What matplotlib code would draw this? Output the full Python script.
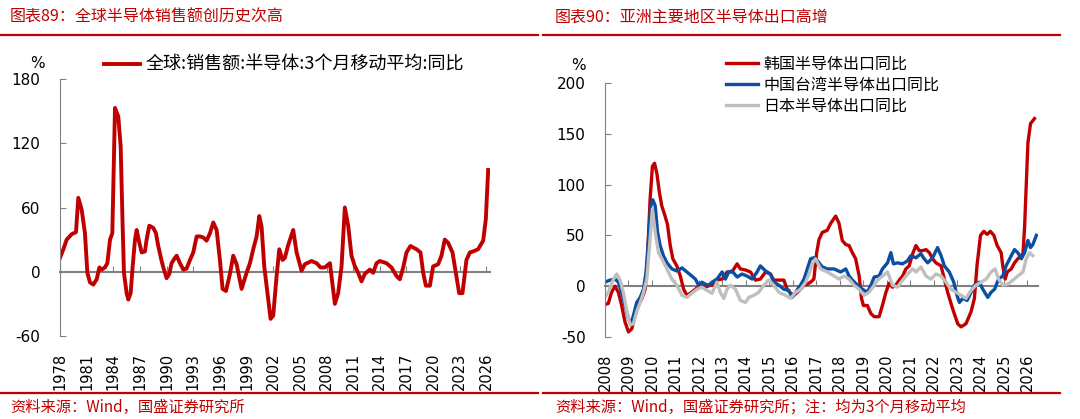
import matplotlib
matplotlib.use("Agg")
import matplotlib.pyplot as plt
import numpy as np

plt.rcParams['font.family'] = ['DejaVu Sans', 'Noto Sans CJK SC']
plt.rcParams['axes.unicode_minus'] = False
CJK = ['Noto Sans CJK SC', 'DejaVu Sans']

RED = '#C00000'
BLUE = '#0B4EA2'
GREY = '#BFBFBF'
AXIS = '#808080'

# ---- left chart: global semiconductor sales, 3m avg, yoy (%)
global_years = [1978.0, 1978.38, 1978.75, 1979.31, 1979.8, 1980.06, 1980.44, 1980.81, 1981.08, 1981.38,
                1981.75, 1982.13, 1982.43, 1982.69, 1983.06, 1983.33, 1983.63, 1983.89, 1984.19, 1984.56,
                1984.83, 1985.05, 1985.2, 1985.5, 1985.69, 1985.95, 1986.18, 1986.44, 1986.63, 1986.93,
                1987.19, 1987.56, 1987.75, 1988.05, 1988.5, 1988.8, 1989.06, 1989.44, 1989.63, 1990.0,
                1990.3, 1990.56, 1990.94, 1991.13, 1991.5, 1991.88, 1992.25, 1992.63, 1993.0, 1993.38,
                1993.75, 1994.13, 1994.5, 1994.88, 1995.25, 1995.63, 1996.0, 1996.3, 1996.68, 1997.13,
                1997.5, 1997.88, 1998.44, 1999.0, 1999.38, 1999.75, 2000.13, 2000.43, 2000.69, 2000.99,
                2001.44, 2001.7, 2002.0, 2002.38, 2002.68, 2003.05, 2003.31, 2003.69, 2004.25, 2004.63,
                2005.19, 2005.56, 2006.31, 2006.88, 2007.33, 2007.81, 2008.38, 2008.94, 2009.31, 2009.69,
                2010.06, 2010.44, 2010.81, 2011.19, 2011.56, 2011.94, 2012.31, 2012.88, 2013.25, 2013.63,
                2014.0, 2014.75, 2015.31, 2015.88, 2016.25, 2016.63, 2017.0, 2017.45, 2018.13, 2018.58,
                2018.88, 2019.18, 2019.63, 2020.0, 2020.56, 2020.94, 2021.31, 2021.69, 2022.18, 2022.55,
                2022.93, 2023.3, 2023.75, 2024.13, 2024.5, 2025.06, 2025.63, 2025.93, 2026.19]
global_sales = [13, 21, 30, 35, 37, 69, 58, 36, -1, -10,
                -12, -7, 4, 2, 4, 8, 30, 36, 153, 145,
                117, 43, -1, -20, -26, -20, 5, 30, 39, 27,
                18, 19, 30, 43, 41, 36, 24, 10, 4, -6,
                -2, 8, 13, 15, 8, 2, 3, 11, 18, 33,
                33, 32, 29, 36, 46, 39, 11, -16, -18, -2,
                15, 7, -16, -1, 8, 21, 33, 52, 42, 5,
                -26, -44, -41, -4, 21, 11, 13, 25, 39, 18,
                1, 7, 10, 8, 4, 4, 8, -30, -20, 5,
                60, 43, 15, 5, -1, -9, -2, 2, -1, 8,
                10, 8, 4, -4, -7, 4, 18, 24, 21, 18,
                -1, -13, -13, 5, 7, 15, 30, 27, 18, -1,
                -20, -20, 11, 18, 19, 21, 29, 49, 95]
left_ticks = list(range(1978, 2027, 3))

# ---- right chart: Asian semiconductor exports yoy (%), 3m avg
kr_years = [2008.0, 2008.14, 2008.28, 2008.43, 2008.57, 2008.71, 2008.85, 2009.0, 2009.14, 2009.28,
            2009.42, 2009.57, 2009.71, 2009.81, 2009.92, 2010.02, 2010.11, 2010.21, 2010.32, 2010.42,
            2010.56, 2010.66, 2010.78, 2010.89, 2011.06, 2011.21, 2011.35, 2011.49, 2011.63, 2011.85,
            2012.06, 2012.27, 2012.49, 2012.63, 2012.77, 2012.99, 2013.2, 2013.41, 2013.63, 2013.77,
            2013.98, 2014.2, 2014.41, 2014.62, 2014.84, 2015.05, 2015.19, 2015.41, 2015.62, 2015.76,
            2015.91, 2016.05, 2016.19, 2016.33, 2016.48, 2016.62, 2016.76, 2016.9, 2017.02, 2017.12,
            2017.26, 2017.47, 2017.62, 2017.83, 2017.97, 2018.11, 2018.26, 2018.4, 2018.54, 2018.68,
            2018.83, 2018.93, 2019.01, 2019.18, 2019.33, 2019.47, 2019.68, 2019.82, 2019.97, 2020.11,
            2020.25, 2020.39, 2020.54, 2020.68, 2020.82, 2020.96, 2021.11, 2021.25, 2021.39, 2021.53,
            2021.68, 2021.82, 2021.96, 2022.1, 2022.32, 2022.46, 2022.6, 2022.81, 2023.03, 2023.17,
            2023.38, 2023.6, 2023.74, 2023.85, 2024.0, 2024.14, 2024.28, 2024.42, 2024.57, 2024.71,
            2024.88, 2024.95, 2025.05, 2025.14, 2025.31, 2025.45, 2025.59, 2025.81, 2025.88, 2026.02,
            2026.13, 2026.3]
korea = [-18, -17, -6, 0, -6, -19, -35, -45, -42, -29,
         -19, -12, -3, 27, 85, 118, 121, 111, 92, 79,
         69, 61, 40, 27, 20, 10, -3, -9, -7, -3,
         1, -1, 1, 1, 6, 7, 14, 14, 22, 17,
         16, 14, 6, 7, 14, 12, 6, 6, 6, -3,
         -7, -9, -6, -3, 1, 2, 4, 7, 33, 46,
         53, 55, 62, 69, 62, 45, 41, 40, 33, 27,
         10, -12, -19, -19, -27, -30, -30, -19, -6, 3,
         -1, 1, 6, 10, 17, 20, 32, 40, 35, 35,
         36, 33, 27, 23, 20, 7, -6, -22, -37, -40,
         -37, -25, -12, 20, 50, 54, 51, 54, 50, 40,
         33, 20, 7, 14, 17, 23, 27, 32, 59, 141,
         160, 165]

tw_years = [2008.0, 2008.21, 2008.43, 2008.57, 2008.71, 2008.85, 2009.0, 2009.1, 2009.21, 2009.35,
            2009.5, 2009.64, 2009.75, 2009.85, 2009.95, 2010.04, 2010.14, 2010.24, 2010.35, 2010.49,
            2010.64, 2010.85, 2011.06, 2011.28, 2011.49, 2011.7, 2011.85, 2011.99, 2012.13, 2012.27,
            2012.42, 2012.56, 2012.77, 2012.99, 2013.13, 2013.27, 2013.41, 2013.63, 2013.84, 2014.05,
            2014.27, 2014.48, 2014.62, 2014.84, 2015.05, 2015.19, 2015.41, 2015.62, 2015.83, 2015.98,
            2016.12, 2016.33, 2016.48, 2016.62, 2016.76, 2016.9, 2017.05, 2017.26, 2017.47, 2017.76,
            2018.04, 2018.26, 2018.4, 2018.54, 2018.76, 2018.97, 2019.18, 2019.33, 2019.47, 2019.68,
            2019.82, 2020.04, 2020.18, 2020.29, 2020.46, 2020.68, 2020.89, 2021.03, 2021.25, 2021.46,
            2021.6, 2021.75, 2021.96, 2022.17, 2022.32, 2022.46, 2022.67, 2022.86, 2023.0, 2023.1,
            2023.24, 2023.43, 2023.6, 2023.74, 2023.95, 2024.1, 2024.31, 2024.45, 2024.6, 2024.77,
            2024.95, 2025.09, 2025.31, 2025.45, 2025.59, 2025.74, 2025.88, 2026.02, 2026.13, 2026.23,
            2026.38]
taiwan = [4, 6, 7, 4, -6, -19, -32, -37, -29, -16,
          -11, -3, 14, 46, 79, 85, 79, 53, 40, 30,
          23, 17, 15, 18, 14, 10, 7, 1, 4, 2,
          1, 4, 7, 14, 7, 14, 15, 9, 12, 10,
          7, 14, 20, 15, 12, 4, 1, -3, -4, -11,
          -6, 1, 7, 17, 27, 28, 25, 19, 17, 17,
          14, 17, 10, 6, 1, -3, -6, 1, 9, 10,
          17, 23, 33, 22, 23, 22, 25, 30, 28, 32,
          27, 23, 28, 38, 30, 20, 14, 4, -9, -16,
          -12, -14, -6, 1, 4, -3, -11, -6, -3, 7,
          10, 20, 30, 36, 33, 27, 33, 45, 38, 41,
          50]

jp_years = [2008.0, 2008.14, 2008.36, 2008.5, 2008.64, 2008.78, 2008.93, 2009.07, 2009.21, 2009.35,
            2009.5, 2009.64, 2009.78, 2009.92, 2010.02, 2010.14, 2010.28, 2010.42, 2010.64, 2010.85,
            2011.06, 2011.28, 2011.49, 2011.7, 2011.92, 2012.13, 2012.34, 2012.56, 2012.77, 2012.91,
            2013.06, 2013.2, 2013.34, 2013.56, 2013.77, 2013.98, 2014.13, 2014.34, 2014.55, 2014.77,
            2014.98, 2015.19, 2015.41, 2015.69, 2015.91, 2016.12, 2016.33, 2016.55, 2016.69, 2016.83,
            2016.97, 2017.19, 2017.47, 2017.76, 2017.97, 2018.19, 2018.4, 2018.61, 2018.83, 2019.04,
            2019.25, 2019.47, 2019.61, 2019.82, 2020.04, 2020.25, 2020.46, 2020.68, 2020.89, 2021.11,
            2021.25, 2021.46, 2021.68, 2021.89, 2022.1, 2022.32, 2022.53, 2022.74, 2022.96, 2023.17,
            2023.38, 2023.6, 2023.81, 2024.03, 2024.24, 2024.45, 2024.62, 2024.77, 2024.95, 2025.17,
            2025.38, 2025.59, 2025.81, 2025.95, 2026.09, 2026.23]
japan = [-11, -6, 7, 12, 6, -6, -25, -38, -37, -25,
         -16, -6, 7, 46, 76, 53, 33, 27, 17, 7,
         1, -9, -11, -7, -3, -1, -4, -7, 4, -6,
         -12, -3, 1, -3, -14, -16, -11, -9, -6, 1,
         6, 1, -6, -9, -12, -6, -3, 4, 12, 22,
         27, 17, 14, 10, 7, 10, 7, 1, -3, -9,
         -6, 1, 6, 10, 14, 1, -1, 6, 12, 17,
         14, 19, 10, 7, 12, 10, 4, -3, -6, -9,
         -12, -4, 1, 4, 7, 14, 17, 7, 1, 2,
         6, 10, 14, 27, 33, 30]
right_ticks = list(range(2008, 2027))


def style_axis(ax, ylim, yticks, xticks, xlim):
    ax.set_xlim(*xlim)
    ax.set_ylim(*ylim)
    ax.set_yticks(yticks)
    for s in ['top', 'right', 'bottom']:
        ax.spines[s].set_visible(False)
    ax.spines['left'].set_color(AXIS)
    ax.tick_params(axis='y', direction='in', length=4, color=AXIS, pad=14, labelsize=11)
    ax.set_xticks(xticks)
    ax.set_xticklabels([str(t) for t in xticks], rotation=90)
    ax.tick_params(axis='x', length=0, pad=12, labelsize=10.5)
    # zero line with small ticks pointing up
    zero = ax.secondary_xaxis(0, transform=ax.transData)
    zero.spines['bottom'].set_color(AXIS)
    zero.spines['bottom'].set_linewidth(1.5)
    zero.set_xticks(xticks)
    zero.tick_params(axis='x', direction='in', length=4, color=AXIS, labelbottom=False)


fig = plt.figure(figsize=(10.8, 4.19), dpi=100)

# left panel
ax1 = fig.add_axes([60 / 1080, 1 - 336 / 419, 430 / 1080, 257 / 419])
ax1.plot(global_years, global_sales, color=RED, lw=2.8, label='全球:销售额:半导体:3个月移动平均:同比')
style_axis(ax1, (-60, 180), [-60, 0, 60, 120, 180], left_ticks, (1978, 2026.4))
ax1.legend(loc='center left', bbox_to_anchor=(88 / 1080, 1 - 65 / 419), bbox_transform=fig.transFigure,
           frameon=False, handlelength=2.0, handletextpad=0.3, prop={'family': CJK, 'size': 13})

# right panel
ax2 = fig.add_axes([605 / 1080, 1 - 337 / 419, 433 / 1080, 254 / 419])
ax2.plot(kr_years, korea, color=RED, lw=2.4, label='韩国半导体出口同比')
ax2.plot(tw_years, taiwan, color=BLUE, lw=2.4, label='中国台湾半导体出口同比')
ax2.plot(jp_years, japan, color=GREY, lw=2.4, label='日本半导体出口同比')
style_axis(ax2, (-50, 200), [-50, 0, 50, 100, 150, 200], right_ticks, (2008, 2026.45))
ax2.legend(loc='upper left', bbox_to_anchor=(712 / 1080, 1 - 41 / 419), bbox_transform=fig.transFigure,
           frameon=False, handlelength=2.0, handletextpad=0.3, labelspacing=0.25,
           prop={'family': CJK, 'size': 11.5})

# % unit labels
fig.text(37 / 1080, 1 - 63 / 419, '%', ha='center', va='center', fontsize=11)
fig.text(578 / 1080, 1 - 65 / 419, '%', ha='center', va='center', fontsize=11)

# titles, rules and sources
fig.text(10 / 1080, 1 - 17 / 419, '图表89：全球半导体销售额创历史次高', color=RED, fontsize=11.5,
         family=CJK, va='center', style='italic')
fig.text(555 / 1080, 1 - 17 / 419, '图表90：亚洲主要地区半导体出口高增', color=RED, fontsize=11.5,
         family=CJK, va='center', style='italic')
fig.text(10 / 1080, 1 - 407 / 419, '资料来源：Wind，国盛证券研究所', color=RED, fontsize=11,
         family=CJK, va='center', style='italic')
fig.text(555 / 1080, 1 - 407 / 419, '资料来源：Wind，国盛证券研究所；注：均为3个月移动平均', color=RED,
         fontsize=11, family=CJK, va='center', style='italic')
for x0, x1 in [(0, 538), (543, 1060)]:
    for yy in [35, 393]:
        fig.add_artist(plt.Line2D([x0 / 1080, x1 / 1080], [1 - yy / 419, 1 - yy / 419],
                                  color=RED, lw=1.6, transform=fig.transFigure))

fig.savefig('out.png', dpi=100)
